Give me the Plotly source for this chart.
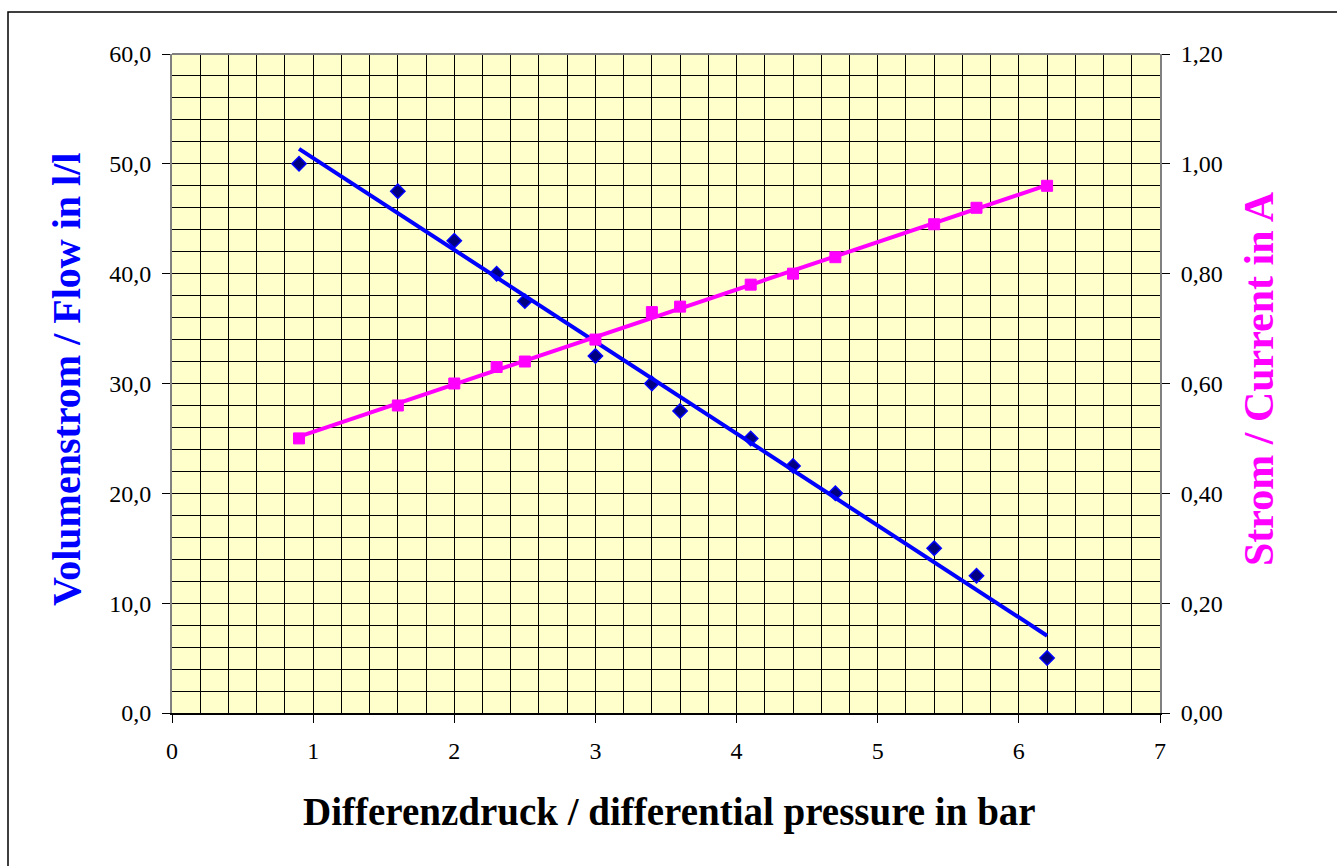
import numpy as np
import plotly.graph_objects as go

# Data
pressure_bar = [0.9, 1.6, 2.0, 2.3, 2.5, 3.0, 3.4, 3.6, 4.1, 4.4, 4.7, 5.4, 5.7, 6.2]
flow_l = [50.0, 47.5, 43.0, 40.0, 37.5, 32.5, 30.0, 27.5, 25.0, 22.5, 20.0, 15.0, 12.5, 5.0]
current_a = [0.50, 0.56, 0.60, 0.63, 0.64, 0.68, 0.73, 0.74, 0.78, 0.80, 0.83, 0.89, 0.92, 0.96]

x_ticks = [0, 1, 2, 3, 4, 5, 6, 7]

# Linear trend lines (as in the original spreadsheet chart)
xf = np.array([pressure_bar[0], pressure_bar[-1]])
pf = np.polyfit(pressure_bar, flow_l, 1)
pc = np.polyfit(pressure_bar, current_a, 1)

fig = go.Figure()

fig.add_trace(go.Scatter(
    x=pressure_bar, y=flow_l, mode="markers",
    marker=dict(symbol="diamond", size=11, color="#000080",
                line=dict(color="#0000FF", width=1.5)),
    showlegend=False, yaxis="y"))
fig.add_trace(go.Scatter(
    x=xf, y=np.polyval(pf, xf), mode="lines",
    line=dict(color="#0000FF", width=4),
    showlegend=False, yaxis="y"))

fig.add_trace(go.Scatter(
    x=xf, y=np.polyval(pc, xf), mode="lines",
    line=dict(color="#FF00FF", width=4),
    showlegend=False, yaxis="y2"))
fig.add_trace(go.Scatter(
    x=pressure_bar, y=current_a, mode="markers",
    marker=dict(symbol="square", size=11, color="#FF00FF",
                line=dict(color="#FF00FF", width=1)),
    showlegend=False, yaxis="y2"))

serif = "Liberation Serif, Times New Roman, serif"
L, R, T, B = 172, 177, 54, 153
PW, PH = 1337 - L - R, 866 - T - B


def px_x(px):
    return (px - L) / PW


def px_y(py):
    return (866 - B - py) / PH


fig.update_layout(
    width=1337, height=866,
    margin=dict(l=L, r=R, t=T, b=B),
    paper_bgcolor="white",
    plot_bgcolor="#FFFFCC",
    separators=",.",
    font=dict(family=serif, size=24, color="black"),
    xaxis=dict(
        range=[0, 7], tickvals=x_ticks, ticktext=[str(v) for v in x_ticks],
        ticks="outside", ticklen=8, tickcolor="black", ticklabelstandoff=7,
        showgrid=True, gridcolor="black", gridwidth=1,
        minor=dict(dtick=0.2, showgrid=True, gridcolor="black", gridwidth=1, ticks=""),
        showline=True, linecolor="black", linewidth=2, mirror=False,
        zeroline=False,
        tickfont=dict(family=serif, size=24, color="black"),
    ),
    yaxis=dict(
        range=[0, 60], dtick=10, tickformat=".1f",
        ticks="outside", ticklen=8, tickcolor="black", ticklabelstandoff=6,
        showgrid=True, gridcolor="black", gridwidth=1,
        minor=dict(dtick=2, showgrid=True, gridcolor="black", gridwidth=1, ticks=""),
        showline=True, linecolor="#808080", linewidth=2,
        zeroline=False,
        tickfont=dict(family=serif, size=24, color="black"),
    ),
    yaxis2=dict(
        range=[0, 1.2], dtick=0.2, tickformat=".2f",
        overlaying="y", side="right",
        ticks="outside", ticklen=8, tickcolor="black", ticklabelstandoff=6,
        showgrid=False, zeroline=False,
        showline=True, linecolor="#808080", linewidth=2,
        tickfont=dict(family=serif, size=24, color="black"),
    ),
    annotations=[
        dict(text="<b>Differenzdruck / differential pressure in bar</b>",
             xref="paper", yref="paper", x=px_x(669), y=px_y(812),
             xanchor="center", yanchor="middle", showarrow=False,
             font=dict(family=serif, size=39, color="black")),
        dict(text="<b>Volumenstrom / Flow in l/l</b>", textangle=-90,
             xref="paper", yref="paper", x=px_x(66), y=px_y(380),
             xanchor="center", yanchor="middle", showarrow=False,
             font=dict(family=serif, size=40, color="#0000FF")),
        dict(text="<b>Strom / Current in A</b>", textangle=-90,
             xref="paper", yref="paper", x=px_x(1259), y=px_y(379),
             xanchor="center", yanchor="middle", showarrow=False,
             font=dict(family=serif, size=42, color="#FF00FF")),
    ],
    shapes=[
        dict(type="rect", xref="paper", yref="paper",
             x0=px_x(8), x1=1.5, y0=-1.0, y1=px_y(12),
             line=dict(color="black", width=1.5), fillcolor="rgba(0,0,0,0)",
             layer="below"),
        dict(type="line", xref="paper", yref="paper", x0=0, x1=1, y0=1, y1=1,
             line=dict(color="#808080", width=2)),
    ],
)

fig.write_html("out.html", config={"displayModeBar": False},
               post_script="document.body.style.margin='0';")
